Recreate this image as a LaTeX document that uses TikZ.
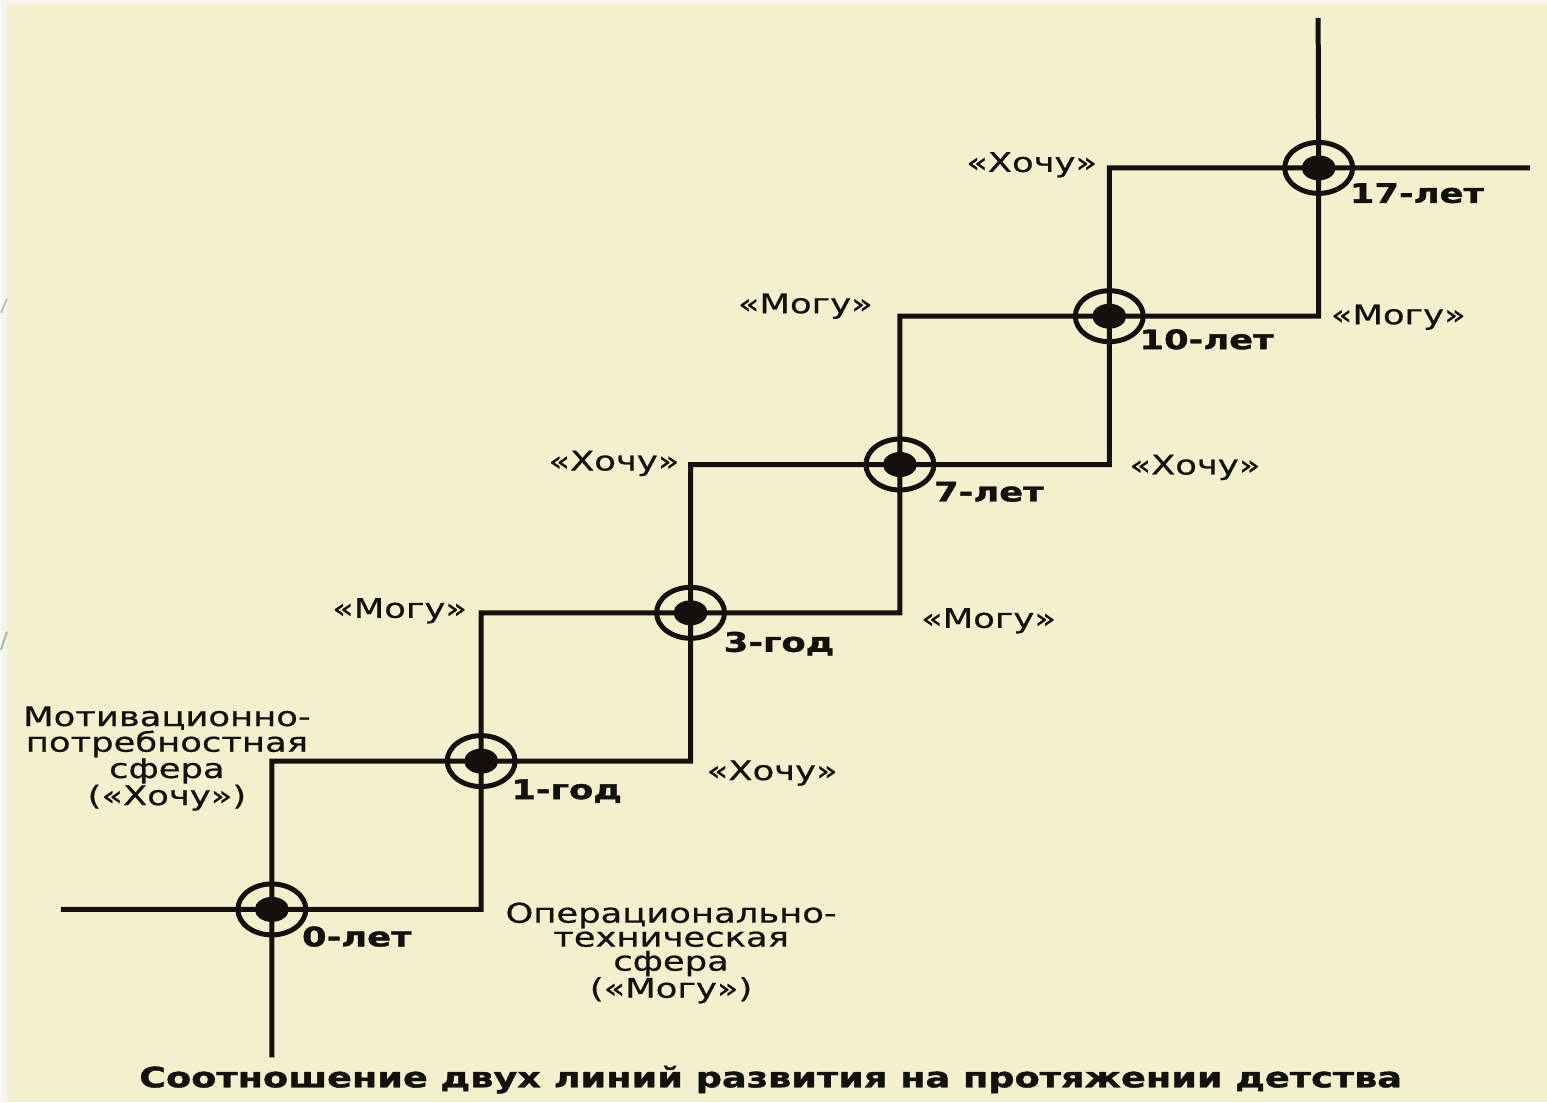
\documentclass[tikz,border=0pt]{standalone}
\usepackage{fontspec}
\usepackage{tikz}
\usetikzlibrary{positioning,shapes.geometric}
\setmainfont{DejaVu Sans}
\newfontfamily\stepfont[FakeStretch=1.31, FakeBold=0.7, BoldFeatures={FakeBold=1.3}]{DejaVu Sans}
\definecolor{paper}{HTML}{F4EFCD}
\definecolor{margin}{HTML}{F6F5EE}
\definecolor{ink}{HTML}{12110D}

\begin{document}
\begin{tikzpicture}[x=1pt, y=-1pt, on grid,
    hub/.style={ellipse, draw=ink, line width=5pt, minimum width=68pt, minimum height=51pt, inner sep=0pt,
        path picture={\fill[ink] (path picture bounding box.center) ellipse (17pt and 12.5pt);}},
    stair/.style={draw=ink, line width=5pt},
    age/.style={inner sep=0pt, text=ink, anchor=base west, font=\stepfont\bfseries\fontsize{27pt}{24pt}\selectfont},
    want/.style={inner sep=0pt, text=ink, font=\stepfont\fontsize{27pt}{24pt}\selectfont},
    sphere/.style={want, align=center, anchor=north},
    caption/.style={inner sep=0pt, text=ink, anchor=base, font=\stepfont\bfseries\fontsize{28pt}{30pt}\selectfont}]

    % Background
    \fill[margin] (0,0) rectangle (1547,1103);
    \fill[paper] (6,4) rectangle (1547,1103);
    \draw[gray!60, line width=1.5pt] (6,299) -- (0,313);
    \draw[black!60!green!40, line width=2pt] (6,632) -- (0,650);
    \useasboundingbox (0,0) rectangle (1547,1103);

    % Age points
    \node[hub] (n0) at (271,910) {};
    \node[hub, above right=148.4pt and 209.5pt of n0] (n1) {};
    \node[hub, above right=148.4pt and 209.5pt of n1] (n3) {};
    \node[hub, above right=148.4pt and 209.5pt of n3] (n7) {};
    \node[hub, above right=148.4pt and 209.5pt of n7] (n10) {};
    \node[hub, above right=148.4pt and 209.5pt of n10] (n17) {};

    % Free ends
    \coordinate (opstart) at (60,910);
    \coordinate (opend) at (1530,168);
    \coordinate (motstart) at (271,1058);
    \coordinate (motend) at (1318,18);

    % Corners
    \coordinate (lo0) at (n1 |- n0);
    \coordinate (lo1) at (n3 |- n1);
    \coordinate (lo2) at (n7 |- n3);
    \coordinate (lo3) at (n10 |- n7);
    \coordinate (lo4) at (n17 |- n10);
    \coordinate (up0) at (n0 |- n1);
    \coordinate (up1) at (n1 |- n3);
    \coordinate (up2) at (n3 |- n7);
    \coordinate (up3) at (n7 |- n10);
    \coordinate (up4) at (n10 |- n17);

    % Lines
    \draw[stair] (opstart) -- (n0.center) -| (n1.center) -| (n3.center) -| (n7.center) -| (n10.center) -| (n17.center) -- (opend);
    \draw[stair] (motstart) -- (n0.center) |- (n1.center) |- (n3.center) |- (n7.center) |- (n10.center) |- (n17.center) -- (motend);

    % Ages
    \node[age] (a0) at ([shift={(30,37)}]n0.center) {0-лет};
    \node[age] (a1) at ([shift={(30,38)}]n1.center) {1-год};
    \node[age] (a3) at ([shift={(33,39)}]n3.center) {3-год};
    \node[age] (a7) at ([shift={(34,37)}]n7.center) {7-лет};
    \node[age] (a10) at ([shift={(30,33)}]n10.center) {10-лет};
    \node[age] (a17) at ([shift={(31,35)}]n17.center) {17-лет};

    % Spheres
    \node[sphere] (motiv) at ([shift={(-105,-55)}]up0) {Мотивационно-\\потребностная\\сфера\\(«Хочу»)};
    \node[sphere] (oper) at ([shift={(190,-7)}]lo0) {Операционально-\\техническая\\сфера\\(«Могу»)};
    \node[want, anchor=base west] (w1) at ([shift={(16,19)}]lo1) {«Хочу»};
    \node[want, anchor=base west] (w2) at ([shift={(21,15)}]lo2) {«Могу»};
    \node[want, anchor=base west] (w3) at ([shift={(20,10)}]lo3) {«Хочу»};
    \node[want, anchor=base west] (w4) at ([shift={(12,8)}]lo4) {«Могу»};
    \node[want, anchor=base east] (v1) at ([shift={(-14,5)}]up1) {«Могу»};
    \node[want, anchor=base east] (v2) at ([shift={(-11,6)}]up2) {«Хочу»};
    \node[want, anchor=base east] (v3) at ([shift={(-27,-3)}]up3) {«Могу»};
    \node[want, anchor=base east] (v4) at ([shift={(-12,4)}]up4) {«Хочу»};

    % Caption
    \node[caption] (title) at (770,1088) {Соотношение двух линий развития на протяжении детства};
\end{tikzpicture}
\end{document}
